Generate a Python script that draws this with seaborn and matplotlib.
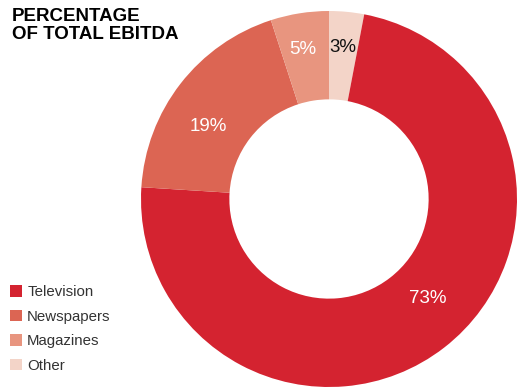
import numpy as np
import matplotlib
matplotlib.use("Agg")
import matplotlib.pyplot as plt
from matplotlib.patches import Patch
import seaborn as sns

# Share of total EBITDA by segment (clockwise from 12 o'clock)
segments = ["Other", "Television", "Newspapers", "Magazines"]
shares = [3, 73, 19, 5]
legend_order = ["Television", "Newspapers", "Magazines", "Other"]

colors = {
    "Television": "#D42330",
    "Newspapers": "#DC6553",
    "Magazines": "#E8957F",
    "Other": "#F3D4C8",
}
label_colors = {"Television": "white", "Newspapers": "white",
                "Magazines": "white", "Other": "#111111"}
label_radius = {"Television": 0.745, "Newspapers": 0.75,
                "Magazines": 0.81, "Other": 0.81}
label_turn = {"Television": 7, "Newspapers": 7, "Magazines": 1, "Other": 0}

sns.set_theme(style="white")
plt.rcParams["font.family"] = ["Liberation Sans", "DejaVu Sans"]

W, H = 517, 388
fig = plt.figure(figsize=(W / 100, H / 100), dpi=100)
cx, cy, R = 329, 199, 188
ax = fig.add_axes([(cx - R) / W, (H - cy - R) / H, 2 * R / W, 2 * R / H])

wedges, _ = ax.pie(
    shares,
    colors=[colors[s] for s in segments],
    startangle=90,
    counterclock=False,
    radius=1.0,
    wedgeprops=dict(width=0.47, edgecolor="none", linewidth=0),
)
ax.set_xlim(-1, 1)
ax.set_ylim(-1, 1)
ax.set_aspect("equal")
ax.axis("off")

for w, seg, val in zip(wedges, segments, shares):
    mid = np.deg2rad((w.theta1 + w.theta2) / 2 + label_turn[seg])
    r = label_radius[seg]
    ax.text(r * np.cos(mid), r * np.sin(mid), f"{val}%",
            ha="center", va="center", fontsize=13.5,
            color=label_colors[seg])

fig.text(12 / W, 1 - 8 / H, "PERCENTAGE\nOF TOTAL EBITDA",
         ha="left", va="top", fontsize=13.5, fontweight="bold",
         color="#000000", linespacing=1.05)

handles = [Patch(facecolor=colors[s], edgecolor="none") for s in legend_order]
fig.legend(handles, legend_order, loc="upper left",
           bbox_to_anchor=(4 / W, 1 - 279 / H), frameon=False,
           fontsize=10.8, labelcolor="#333333",
           handlelength=0.8, handleheight=0.8, handletextpad=0.35,
           labelspacing=0.7, borderaxespad=0, borderpad=0.4)

fig.savefig("out.png", dpi=100, facecolor="white")
